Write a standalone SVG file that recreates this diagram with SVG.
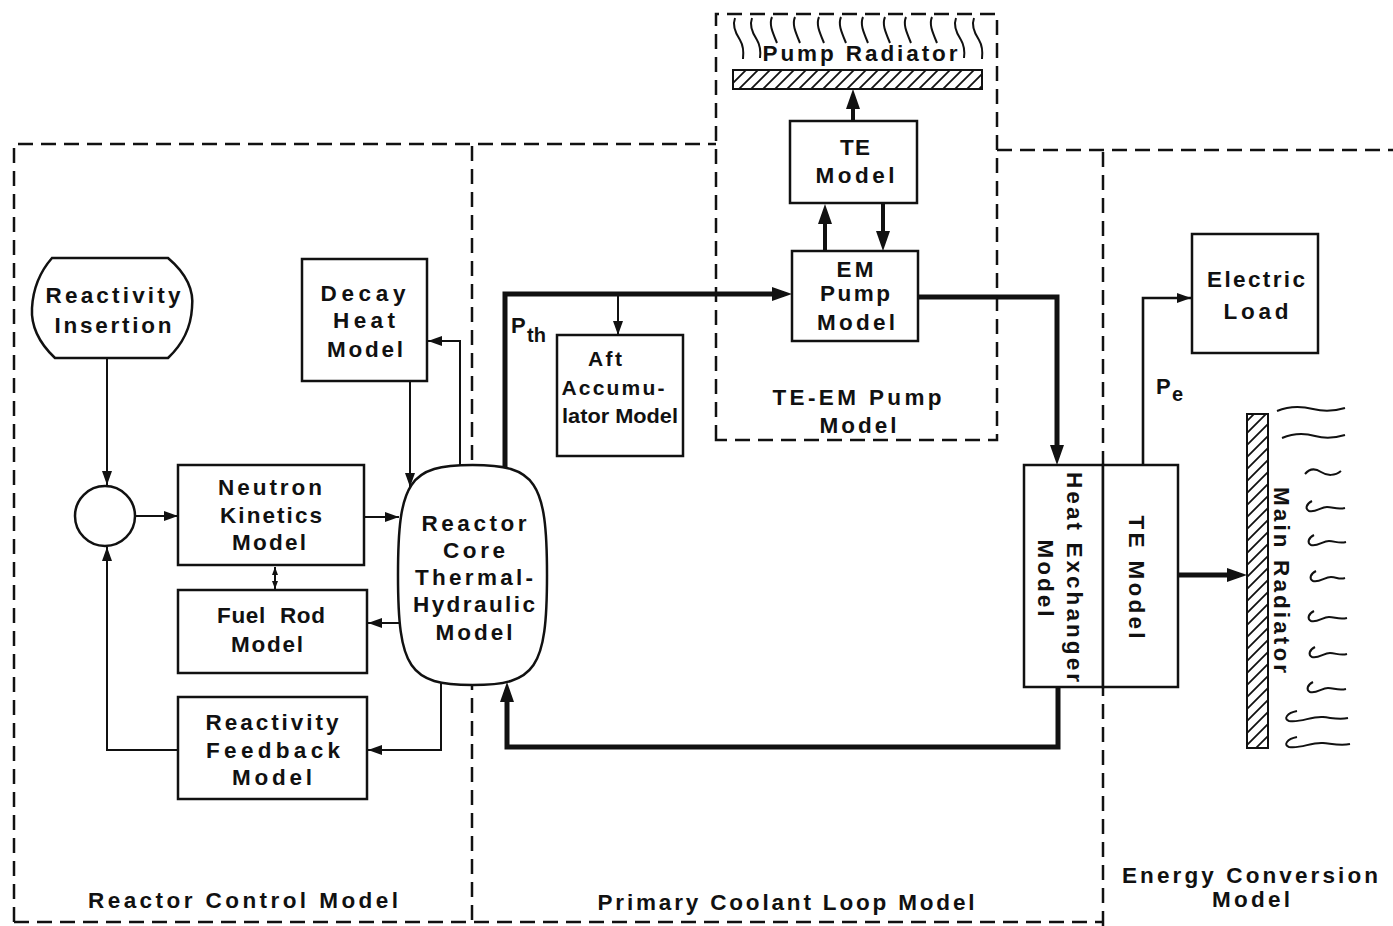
<svg xmlns="http://www.w3.org/2000/svg" width="1393" height="926" viewBox="0 0 1393 926">
<style>
.bg{fill:#fff}
.region{fill:none;stroke:#111;stroke-width:2.5;stroke-dasharray:15 8}
.box{fill:#fff;stroke:#111;stroke-width:2.5}
.thin{fill:none;stroke:#111;stroke-width:2}
.med{fill:none;stroke:#111;stroke-width:2.6}
.thick{fill:none;stroke:#111;stroke-width:5;stroke-linejoin:miter}
.thick4{fill:none;stroke:#111;stroke-width:4}
.wave{fill:none;stroke:#111;stroke-width:2}
.lbl{font-family:"Liberation Sans",Arial,sans-serif;font-size:22.5px;font-weight:bold;text-anchor:middle;fill:#111}
.lbl2{font-family:"Liberation Sans",Arial,sans-serif;font-size:21px;font-weight:bold;text-anchor:middle;fill:#111}
.sym{font-family:"Liberation Sans",Arial,sans-serif;font-weight:bold;fill:#111}
</style>
<defs>
<marker id="a" viewBox="0 0 14 10" refX="14" refY="5" markerWidth="14" markerHeight="10" markerUnits="userSpaceOnUse" orient="auto"><path d="M0,0 L14,5 L0,10 z" fill="#111"/></marker>
<marker id="A" viewBox="0 0 20 14" refX="12" refY="7" markerWidth="20" markerHeight="14" markerUnits="userSpaceOnUse" orient="auto"><path d="M0,0 L20,7 L0,14 z" fill="#111"/></marker>
<marker id="s" viewBox="0 0 8 6" refX="8" refY="3" markerWidth="8" markerHeight="6" markerUnits="userSpaceOnUse" orient="auto-start-reverse"><path d="M0,0 L8,3 L0,6 z" fill="#111"/></marker>
<pattern id="hatch" width="12" height="12" patternUnits="userSpaceOnUse"><path d="M-3,3 L3,-3 M0,12 L12,0 M9,15 L15,9" stroke="#111" stroke-width="1.8"/></pattern>
</defs>
<rect class="bg" x="0" y="0" width="1393" height="926"/>

<g id="regions">
<path class="region" d="M14,922 V144 H716"/>
<path class="region" d="M472,146 V926"/>
<path class="region" d="M716,440 V14 H997 V440 Z"/>
<path class="region" d="M997,150 H1393"/>
<path class="region" d="M1103,152 V926"/>
<path class="region" d="M14,922 H1103"/>
</g>

<g id="region-labels">
<text class="lbl" x="243" y="908" textLength="310" lengthAdjust="spacing">Reactor Control Model</text>
<text class="lbl" x="786" y="910" textLength="377" lengthAdjust="spacing">Primary Coolant Loop Model</text>
<text class="lbl" x="1250" y="883" textLength="256" lengthAdjust="spacing">Energy Conversion</text>
<text class="lbl" x="1251" y="907" textLength="78" lengthAdjust="spacing">Model</text>
<text class="lbl" x="857" y="405" textLength="169" lengthAdjust="spacing">TE-EM Pump</text>
<text class="lbl" x="858" y="433" textLength="77" lengthAdjust="spacing">Model</text>
</g>

<g id="connectors">
<path class="thin" d="M107,358 V485" marker-end="url(#a)"/>
<path class="thin" d="M135,516 H178" marker-end="url(#a)"/>
<path class="thin" d="M364,517 H399" marker-end="url(#a)"/>
<path class="thin" d="M410,381 V487" marker-end="url(#a)"/>
<path class="thin" d="M460,466 V341 H428" marker-end="url(#a)"/>
<path class="thin" d="M399,623 H368" marker-end="url(#a)"/>
<path class="thin" d="M275,567 V589" marker-start="url(#s)" marker-end="url(#s)"/>
<path class="thin" d="M441,682 V750 H368" marker-end="url(#a)"/>
<path class="thin" d="M178,750 H107 V547" marker-end="url(#a)"/>
<path class="thick" d="M505,468 V294 H784" marker-end="url(#A)"/>
<path class="thin" d="M618,294 V335" marker-end="url(#a)"/>
<path class="thick" d="M917,297 H1057 V457" marker-end="url(#A)"/>
<path class="thick" d="M1058,687 V747 H507 V690" marker-end="url(#A)"/>
<path class="thick4" d="M825,251 V212" marker-end="url(#A)"/>
<path class="thick4" d="M883,204 V243" marker-end="url(#A)"/>
<path class="thick4" d="M853,121 V97" marker-end="url(#A)"/>
<path class="med" d="M1143,465 V298 H1191" marker-end="url(#a)"/>
<path class="thick" d="M1178,575 H1239" marker-end="url(#A)"/>
<text class="sym" x="511" y="333" font-size="22">P</text>
<text class="sym" x="527" y="342" font-size="20">th</text>
<text class="sym" x="1156" y="394" font-size="22">P</text>
<text class="sym" x="1172" y="401" font-size="20">e</text>
</g>

<g id="reactivity-insertion">
<path class="box" d="M52,258 H168 C188,275 194,292 192,308 C191,325 185,342 168,358 H55 C38,342 31,325 32,308 C33,290 38,274 52,258 Z"/>
<text class="lbl" x="113" y="303" textLength="135" lengthAdjust="spacing">Reactivity</text>
<text class="lbl" x="113" y="333" textLength="117" lengthAdjust="spacing">Insertion</text>
</g>

<g id="summing-junction">
<circle class="box" cx="105" cy="516" r="30"/>
</g>

<g id="decay-heat">
<rect class="box" x="302" y="259" width="125" height="122"/>
<text class="lbl" x="363" y="301" textLength="85" lengthAdjust="spacing">Decay</text>
<text class="lbl" x="364" y="328" textLength="62" lengthAdjust="spacing">Heat</text>
<text class="lbl" x="365" y="357" textLength="76" lengthAdjust="spacing">Model</text>
</g>

<g id="neutron-kinetics">
<rect class="box" x="178" y="465" width="186" height="100"/>
<text class="lbl" x="270" y="495" textLength="104" lengthAdjust="spacing">Neutron</text>
<text class="lbl" x="271" y="523" textLength="102" lengthAdjust="spacing">Kinetics</text>
<text class="lbl" x="269" y="550" textLength="74" lengthAdjust="spacing">Model</text>
</g>

<g id="fuel-rod">
<rect class="box" x="178" y="590" width="189" height="83"/>
<text class="lbl" x="271" y="623" textLength="108" lengthAdjust="spacing" xml:space="preserve">Fuel  Rod</text>
<text class="lbl" x="267" y="652" textLength="72" lengthAdjust="spacing">Model</text>
</g>

<g id="reactivity-feedback">
<rect class="box" x="178" y="697" width="189" height="102"/>
<text class="lbl" x="272" y="730" textLength="133" lengthAdjust="spacing">Reactivity</text>
<text class="lbl" x="273" y="758" textLength="134" lengthAdjust="spacing">Feedback</text>
<text class="lbl" x="272" y="785" textLength="80" lengthAdjust="spacing">Model</text>
</g>

<g id="reactor-core">
<path class="box" d="M472.5,465 C409.2,465 398,481.5 398,575 C398,668.5 409.2,685 472.5,685 C535.8,685 547,668.5 547,575 C547,481.5 535.8,465 472.5,465 Z"/>
<text class="lbl" x="474" y="531" textLength="105" lengthAdjust="spacing">Reactor</text>
<text class="lbl" x="474" y="558" textLength="62" lengthAdjust="spacing">Core</text>
<text class="lbl" x="474" y="585" textLength="118" lengthAdjust="spacing">Thermal-</text>
<text class="lbl" x="474" y="612" textLength="122" lengthAdjust="spacing">Hydraulic</text>
<text class="lbl" x="474" y="640" textLength="77" lengthAdjust="spacing">Model</text>
</g>

<g id="aft-accumulator">
<rect class="box" x="557" y="335" width="126" height="121"/>
<text class="lbl2" x="605" y="366" textLength="34" lengthAdjust="spacing">Aft</text>
<text class="lbl2" x="613" y="395" textLength="103" lengthAdjust="spacing">Accumu-</text>
<text class="lbl2" x="620" y="423" textLength="116" lengthAdjust="spacingAndGlyphs">lator Model</text>
</g>

<g id="pump-radiator">
<path class="wave" d="M735,18 c-3,8 1,16 5,22 c3,5 4,10 3,19"/>
<path class="wave" d="M752,18 c-3,8 1,16 5,22 c3,5 4,10 3,18"/>
<path class="wave" d="M772,17 c-3,7 0,14 5,26"/>
<path class="wave" d="M795,17 c-3,7 0,14 5,26"/>
<path class="wave" d="M819,17 c-3,7 0,14 5,26"/>
<path class="wave" d="M841,17 c-3,7 0,14 5,26"/>
<path class="wave" d="M863,17 c-3,7 0,14 5,26"/>
<path class="wave" d="M885,17 c-3,7 0,14 5,26"/>
<path class="wave" d="M906,17 c-3,7 0,14 5,26"/>
<path class="wave" d="M932,17 c-3,7 0,14 5,26"/>
<path class="wave" d="M956,18 c-3,8 1,16 5,22 c3,5 4,10 3,18"/>
<path class="wave" d="M974,18 c-3,8 1,16 5,22 c3,5 4,10 3,19"/>
<text class="lbl" x="860" y="61" textLength="195" lengthAdjust="spacing">Pump Radiator</text>
<rect x="733" y="70" width="249" height="19" fill="url(#hatch)" stroke="#111" stroke-width="2"/>
</g>

<g id="te-model-pump">
<rect class="box" x="790" y="121" width="127" height="82"/>
<text class="lbl" x="855" y="155" textLength="30" lengthAdjust="spacing">TE</text>
<text class="lbl" x="855" y="183" textLength="79" lengthAdjust="spacing">Model</text>
</g>

<g id="em-pump">
<rect class="box" x="792" y="251" width="126" height="90"/>
<text class="lbl" x="855" y="277" textLength="37" lengthAdjust="spacing">EM</text>
<text class="lbl" x="855" y="301" textLength="70" lengthAdjust="spacing">Pump</text>
<text class="lbl" x="856" y="330" textLength="78" lengthAdjust="spacing">Model</text>
</g>

<g id="heat-exchanger">
<rect class="box" x="1024" y="465" width="79" height="222"/>
<text class="lbl" transform="translate(1067,577) rotate(90)" x="0" y="0" textLength="210" lengthAdjust="spacing">Heat Exchanger</text>
<text class="lbl" transform="translate(1038,578) rotate(90)" x="0" y="0" textLength="77" lengthAdjust="spacing">Model</text>
</g>

<g id="te-model-conversion">
<rect class="box" x="1103" y="465" width="75" height="222"/>
<text class="lbl" transform="translate(1129,577) rotate(90)" x="0" y="0" textLength="123" lengthAdjust="spacing">TE Model</text>
</g>

<g id="electric-load">
<rect class="box" x="1192" y="234" width="126" height="119"/>
<text class="lbl" x="1256" y="287" textLength="98" lengthAdjust="spacing">Electric</text>
<text class="lbl" x="1256" y="319" textLength="65" lengthAdjust="spacing">Load</text>
</g>

<g id="main-radiator">
<rect x="1247" y="414" width="21" height="334" fill="url(#hatch)" stroke="#111" stroke-width="2"/>
<text class="lbl" transform="translate(1274,580) rotate(90)" x="0" y="0" textLength="186" lengthAdjust="spacing">Main Radiator</text>
<path class="wave" d="M1277,411 c12,-5 24,-5 36,-2 c12,3 22,2 32,-1"/>
<path class="wave" d="M1282,438 c12,-5 22,-5 33,-2 c11,3 20,2 30,-1"/>
<path class="wave" d="M1305,474 c5,-6 10,-6 16,-2 c6,4 14,4 20,-1"/>
<path class="wave" d="M1312,501 c-6,3 -7,8 -3,10 c6,2 12,-4 18,-4 c6,0 10,3 18,1"/>
<path class="wave" d="M1314,535 c-6,3 -7,8 -3,10 c6,2 12,-4 18,-4 c6,0 10,3 17,1"/>
<path class="wave" d="M1316,571 c-6,3 -7,8 -3,10 c6,2 12,-4 18,-4 c6,0 8,3 14,1"/>
<path class="wave" d="M1314,611 c-6,3 -7,8 -3,10 c6,2 12,-4 18,-4 c6,0 10,3 18,1"/>
<path class="wave" d="M1315,647 c-6,3 -7,8 -3,10 c6,2 12,-4 18,-4 c6,0 10,3 17,1"/>
<path class="wave" d="M1313,682 c-6,3 -7,8 -3,10 c6,2 12,-4 18,-4 c6,0 10,3 18,1"/>
<path class="wave" d="M1297,711 c-10,2 -14,8 -8,10 c12,2 22,-5 34,-4 c10,1 16,3 25,1"/>
<path class="wave" d="M1297,737 c-10,2 -14,8 -8,10 c12,2 22,-5 34,-4 c10,1 18,3 27,1"/>
</g>
</svg>
